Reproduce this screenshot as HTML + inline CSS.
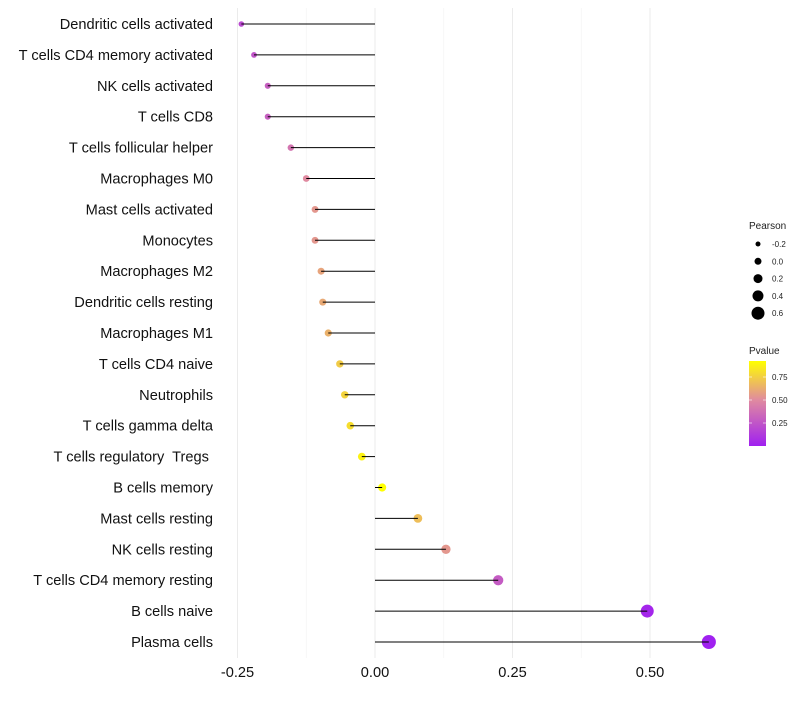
<!DOCTYPE html>
<html><head><meta charset="utf-8"><style>body{margin:0;background:#fff}svg{font-family:"Liberation Sans",sans-serif}</style></head>
<body>
<svg id="chart" width="800" height="700"></svg>
<script>
const categories=["Dendritic cells activated","T cells CD4 memory activated","NK cells activated","T cells CD8","T cells follicular helper","Macrophages M0","Mast cells activated","Monocytes","Macrophages M2","Dendritic cells resting","Macrophages M1","T cells CD4 naive","Neutrophils","T cells gamma delta","T cells regulatory  Tregs ","B cells memory","Mast cells resting","NK cells resting","T cells CD4 memory resting","B cells naive","Plasma cells"];
const pearson=[-0.243,-0.22,-0.195,-0.195,-0.153,-0.125,-0.109,-0.109,-0.098,-0.095,-0.085,-0.064,-0.055,-0.045,-0.024,0.013,0.078,0.129,0.224,0.495,0.607];
const pvalue=[0.2,0.25,0.3,0.3,0.4,0.5,0.55,0.55,0.6,0.62,0.65,0.75,0.78,0.82,0.9,0.95,0.7,0.55,0.28,0.03,0.003];
const xTicks=[-0.25,0,0.25,0.5];
const xTickLabels=["-0.25","0.00","0.25","0.50"];
const sizeLegend=[-0.2,0,0.2,0.4,0.6];
const pTicks=[0.25,0.5,0.75];
const NS="http://www.w3.org/2000/svg",svg=document.getElementById("chart");
function el(t,a,p){const e=document.createElementNS(NS,t);for(const k in a)e.setAttribute(k,a[k]);(p||svg).appendChild(e);return e;}
const x=v=>375+v*550;
const y=i=>24+i*30.9;
const r=v=>Math.max(1.8,4.0+v*5);
const lr=v=>3.5+v*5;
function lerp(a,b,t){return a.map((c,i)=>Math.round(c+(b[i]-c)*t));}
function col(p){const s=[[160,32,240],[224,138,160],[255,255,0]];let c=p<0.5?lerp(s[0],s[1],p/0.5):lerp(s[1],s[2],Math.min(1,(p-0.5)/0.45));return `rgb(${c})`;}
[-0.125,0.125,0.375].forEach(v=>{const g=el("line",{x1:x(v),x2:x(v),y1:8,y2:658,stroke:"#f3f3f3","stroke-width":0.6});});
xTicks.forEach((v,i)=>{const g=el("line",{x1:x(v),x2:x(v),y1:8,y2:658,stroke:"#ebebeb","stroke-width":1});
const t=el("text",{x:x(v),y:677,"text-anchor":"middle","font-size":14.6,fill:"#111"});t.textContent=xTickLabels[i];});
categories.forEach((c,i)=>{
const t=el("text",{x:213,y:y(i)+5,"text-anchor":"end","font-size":14.6,fill:"#111",style:"white-space:pre"});t.textContent=c;
const d=el("circle",{cx:x(pearson[i]),cy:y(i),r:r(pearson[i]),fill:col(pvalue[i])});
const l=el("line",{x1:x(0),x2:x(pearson[i]),y1:y(i),y2:y(i),stroke:"#000","stroke-width":1});
});
let t=el("text",{x:749,y:229,"font-size":10,fill:"#222"});t.textContent="Pearson";
sizeLegend.forEach((v,i)=>{const cy=244+i*17.3;
const c=el("circle",{cx:758,cy:cy,r:lr(v),fill:"#000"});
const tt=el("text",{x:772,y:cy+3,"font-size":8,fill:"#222"});tt.textContent=v===0?"0.0":v.toFixed(1);});
t=el("text",{x:749,y:354,"font-size":10,fill:"#222"});t.textContent="Pvalue";
const defs=el("defs",{});const lg=el("linearGradient",{id:"pg",x1:0,y1:1,x2:0,y2:0},defs);
[[0,"#a020f0"],[0.54,"#e08aa0"],[1,"#ffff00"]].forEach(s=>el("stop",{offset:s[0],"stop-color":s[1]},lg));
const bar=el("rect",{x:749,y:361,width:17,height:85,fill:"url(#pg)"});
const py=p=>446-p*92;
pTicks.forEach(p=>{el("line",{x1:749,x2:752,y1:py(p),y2:py(p),stroke:"#fff","stroke-width":0.6});el("line",{x1:763,x2:766,y1:py(p),y2:py(p),stroke:"#fff","stroke-width":0.6});
const tt=el("text",{x:772,y:py(p)+3,"font-size":8,fill:"#222"});tt.textContent=p.toFixed(2);});
</script>
</body></html>
